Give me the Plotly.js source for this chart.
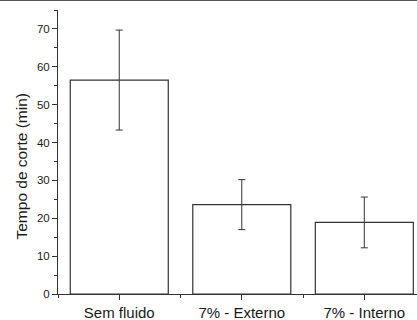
<!DOCTYPE html>
<html>
<head>
<meta charset="utf-8">
<script src="https://cdn.plot.ly/plotly-3.0.1.min.js"></script>
<style>
  html, body { margin: 0; padding: 0; background: #fff; overflow: hidden; }
  #chart { width: 417px; height: 319px; border-top: 1px solid #555; }
</style>
</head>
<body>
<div id="chart"></div>
<script>
const categories = ["Sem fluido", "7% - Externo", "7% - Interno"];
const values = [56.5, 23.6, 18.9];
const errors = [13.2, 6.6, 6.7];
const yTicks = [0, 10, 20, 30, 40, 50, 60, 70];
const yTitle = "Tempo de corte (min)";

const positions = categories.map((c, i) => i);
const axisColor = "#333";
const textColor = "#1a1a1a";
const fontFamily = "Liberation Sans, Arial, sans-serif";

const trace = {
  type: "bar",
  x: positions,
  y: values,
  width: 0.8,
  marker: { color: "#fff", line: { color: axisColor, width: 1.2 } },
  error_y: { type: "data", array: errors, visible: true, color: axisColor, thickness: 1, width: 3.5 },
  hoverinfo: "none"
};

const layout = {
  width: 417,
  height: 319,
  margin: { l: 58, r: 0, t: 9, b: 26 },
  paper_bgcolor: "#fff",
  plot_bgcolor: "#fff",
  showlegend: false,
  font: { family: fontFamily, color: textColor },
  xaxis: {
    range: [-0.5, 2.43],
    tickvals: positions,
    ticktext: categories,
    showline: true, linecolor: axisColor, linewidth: 1,
    ticks: "outside", ticklen: 5, tickcolor: axisColor, tickwidth: 1,
    minor: { tick0: 0.5, dtick: 1, ticks: "outside", ticklen: 3, tickcolor: axisColor, tickwidth: 1 },
    showgrid: false, zeroline: false,
    tickfont: { size: 15, color: textColor, family: fontFamily }
  },
  yaxis: {
    range: [0, 75],
    tickvals: yTicks,
    ticktext: yTicks.map(String),
    showline: true, linecolor: axisColor, linewidth: 1,
    ticks: "outside", ticklen: 5, tickcolor: axisColor, tickwidth: 1,
    minor: { dtick: 5, ticks: "outside", ticklen: 3, tickcolor: axisColor, tickwidth: 1 },
    showgrid: false, zeroline: false,
    tickfont: { size: 11.5, color: textColor, family: fontFamily }
  },
  annotations: [{
    text: yTitle,
    xref: "paper", yref: "paper",
    x: -0.103, y: 0.449,
    xanchor: "center", yanchor: "middle",
    textangle: -90,
    showarrow: false,
    font: { size: 15.5, color: textColor, family: fontFamily }
  }]
};

Plotly.newPlot("chart", [trace], layout, { staticPlot: true, displayModeBar: false });
</script>
</body>
</html>
